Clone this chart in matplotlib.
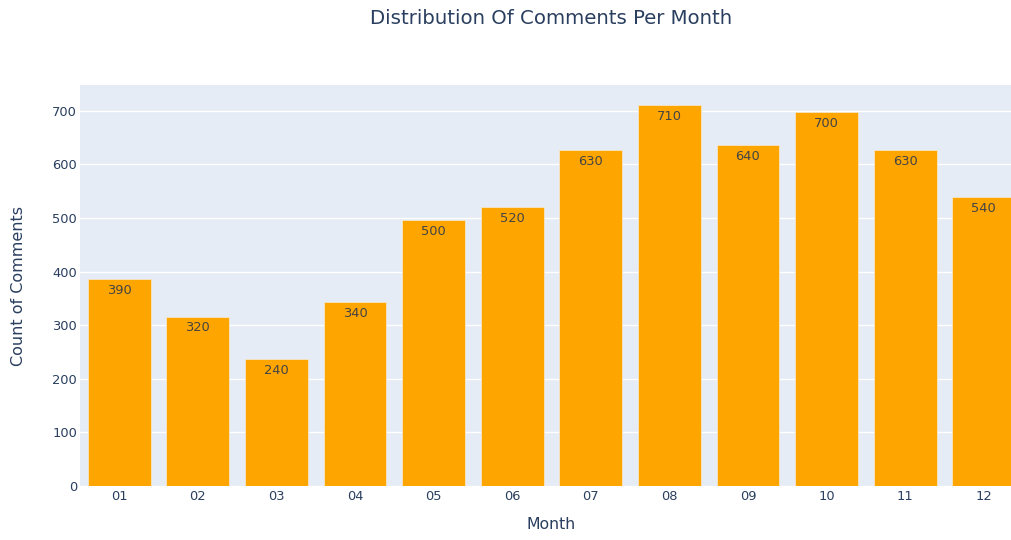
import math
import matplotlib
matplotlib.use("Agg")
import matplotlib.pyplot as plt

months = ["01", "02", "03", "04", "05", "06", "07", "08", "09", "10", "11", "12"]
comments = [386, 316, 237, 343, 496, 521, 627, 711, 636, 698, 627, 539]
yticks = [0, 100, 200, 300, 400, 500, 600, 700]

def two_sig(v):
    if v == 0:
        return "0"
    d = -int(math.floor(math.log10(abs(v)))) + 1
    return f"{round(v, d):g}"

plt.rcParams["font.family"] = ["DejaVu Sans"]
txt = "#2a3f5f"

fig = plt.figure(figsize=(10.11, 5.40), dpi=100)
ax = fig.add_axes([80/1011, 54/540, 943/1011, 401/540])
ax.set_facecolor("#E5ECF6")
x = list(range(len(months)))
bars = ax.bar(x, comments, width=0.8, color="#FFA500", edgecolor="#F5E6C8", linewidth=0.6, zorder=3)
for xi, v in zip(x, comments):
    ax.annotate(two_sig(v), (xi, v), xytext=(0, -3.5), textcoords="offset points",
                ha="center", va="top", fontsize=9.4, color="#444444", zorder=4)

ax.set_xlim(-0.5, len(months) - 0.5)
ax.set_ylim(0, 748)
ax.set_xticks(x)
ax.set_xticklabels(months)
ax.set_yticks(yticks)
ax.tick_params(axis="both", length=0, labelsize=9.4, colors=txt)
ax.tick_params(axis="x", pad=3)
ax.tick_params(axis="y", pad=2)
ax.grid(axis="y", color="white", linewidth=1.0, zorder=1)
ax.set_axisbelow(True)
for s in ax.spines.values():
    s.set_visible(False)

ax.set_ylabel("Count of Comments", fontsize=11.5, color=txt)
ax.yaxis.set_label_coords(-54/943, 0.5)
ax.set_xlabel("Month", fontsize=11.3, color=txt)
ax.xaxis.set_label_coords(0.5, -31/401)
fig.text((80 + 943/2)/1011, 1 - 19/540, "Distribution Of Comments Per Month",
         ha="center", va="center", fontsize=14.2, color=txt)

fig.savefig("out.png", dpi=100)
